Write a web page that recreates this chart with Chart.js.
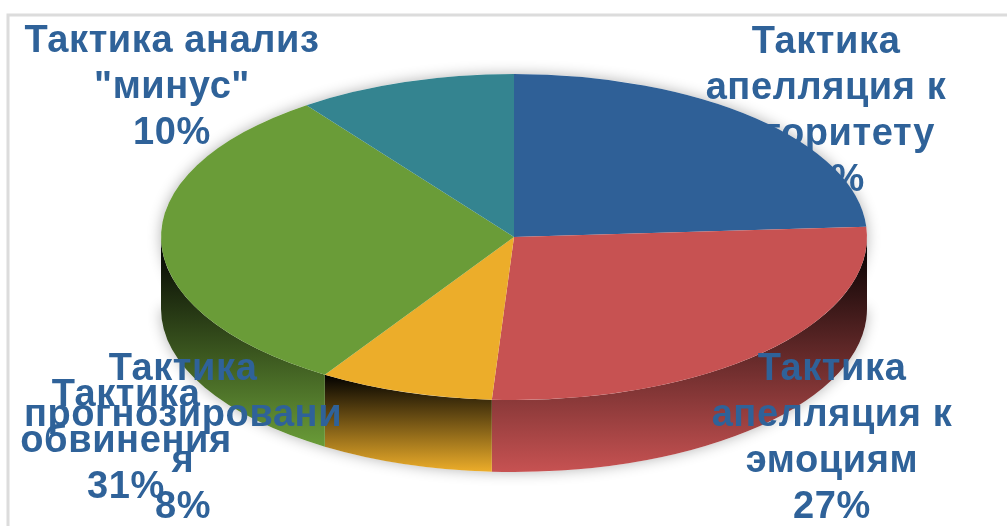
<!DOCTYPE html>
<html lang="ru">
<head>
<meta charset="utf-8">
<title>Тактики</title>
<script src="https://cdn.jsdelivr.net/npm/chart.js@4/dist/chart.umd.min.js"></script>
<style>
  html, body { margin: 0; padding: 0; background: #fff; overflow: hidden; }
  canvas { display: block; }
</style>
</head>
<body>
<canvas id="pieChart" width="1007" height="526"></canvas>
<script>
// Chart data
const categories = [
  'Тактика апелляция к авторитету',
  'Тактика апелляция к эмоциям',
  'Тактика прогнозирования',
  'Тактика обвинения',
  'Тактика анализ "минус"'
];
const shares = [24, 27, 8, 31, 10];
const sliceColors = ['#2f6097', '#c75252', '#ecad2a', '#6a9c38', '#348490'];

// Wrapped label text, one list per slice
const labelLines = [
  ['Тактика', 'апелляция к', 'авторитету'],
  ['Тактика', 'апелляция к', 'эмоциям'],
  ['Тактика', 'прогнозировани', 'я'],
  ['Тактика', 'обвинения'],
  ['Тактика анализ', '"минус"']
];
const labelCenterX = [826, 832, 183, 126, 172];
const labelFirstBaseline = [53, 380, 380, 406, 52];

const RADIUS_X = 353;
const RADIUS_Y = 163;
const DEPTH = 72;
const LINE_HEIGHT = 46;
const FRONT_START = 0;
const FRONT_END = Math.PI;

function drawLabel(ctx, index) {
  const lines = labelLines[index].concat(shares[index] + '%');
  ctx.save();
  ctx.font = 'bold 38px "Liberation Sans", Arial, sans-serif';
  ctx.letterSpacing = '0.6px';
  ctx.fillStyle = '#2f6299';
  ctx.textAlign = 'center';
  ctx.textBaseline = 'alphabetic';
  lines.forEach((line, i) => {
    ctx.fillText(line, labelCenterX[index], labelFirstBaseline[index] + i * LINE_HEIGHT);
  });
  ctx.restore();
}

// Extruded wall under the visible front part of a slice
function drawWall(ctx, arc, color) {
  const start = Math.max(arc.startAngle, FRONT_START);
  const end = Math.min(arc.endAngle, FRONT_END);
  if (end <= start) return;

  const topY = arc.y + RADIUS_Y * Math.min(Math.sin(start), Math.sin(end));
  const lowest = start < Math.PI / 2 && end > Math.PI / 2 ? 1 : Math.max(Math.sin(start), Math.sin(end));
  const bottomY = arc.y + RADIUS_Y * lowest + DEPTH;

  const gradient = ctx.createLinearGradient(0, topY, 0, bottomY);
  gradient.addColorStop(0, '#000000');
  gradient.addColorStop(1, color);

  ctx.beginPath();
  ctx.ellipse(arc.x, arc.y, RADIUS_X, RADIUS_Y, 0, start, end);
  ctx.ellipse(arc.x, arc.y + DEPTH, RADIUS_X, RADIUS_Y, 0, end, start, true);
  ctx.closePath();
  ctx.fillStyle = gradient;
  ctx.fill();
}

const pie3d = {
  id: 'pie3d',
  beforeDraw(chart) {
    // Thin frame along the top and left edges
    const ctx = chart.ctx;
    ctx.save();
    ctx.strokeStyle = '#dcdcdc';
    ctx.lineWidth = 3;
    ctx.beginPath();
    ctx.moveTo(8, 526);
    ctx.lineTo(8, 15);
    ctx.lineTo(1007, 15);
    ctx.stroke();
    ctx.restore();
  },
  beforeDatasetsDraw(chart) {
    const ctx = chart.ctx;
    const arcs = chart.getDatasetMeta(0).data;
    const { x, y } = arcs[0];

    // Soft shadow around the disc
    ctx.save();
    ctx.shadowColor = 'rgba(0, 0, 0, 0.3)';
    ctx.shadowBlur = 14;
    ctx.fillStyle = '#fff';
    ctx.beginPath();
    ctx.ellipse(x, y, RADIUS_X, RADIUS_Y, 0, 0, Math.PI * 2);
    ctx.fill();
    ctx.beginPath();
    ctx.ellipse(x, y + DEPTH, RADIUS_X, RADIUS_Y, 0, 0, Math.PI);
    ctx.fill();
    ctx.restore();

    arcs.forEach((arc, i) => drawWall(ctx, arc, sliceColors[i]));

    // This label sits behind the disc
    drawLabel(ctx, 0);

    // Squash the pie into an ellipse for the slices
    ctx.save();
    ctx.translate(x, y);
    ctx.scale(1, RADIUS_Y / RADIUS_X);
    ctx.translate(-x, -y);
  },
  afterDatasetsDraw(chart) {
    const ctx = chart.ctx;
    ctx.restore();
    [4, 1, 3, 2].forEach(i => drawLabel(ctx, i));
  }
};

new Chart(document.getElementById('pieChart').getContext('2d'), {
  type: 'pie',
  data: {
    labels: categories,
    datasets: [{
      data: shares,
      backgroundColor: sliceColors,
      borderWidth: 0,
      clip: false
    }]
  },
  options: {
    responsive: false,
    animation: false,
    radius: RADIUS_X,
    layout: { padding: { left: 21, bottom: 52 } },
    plugins: {
      legend: { display: false },
      tooltip: { enabled: false }
    }
  },
  plugins: [pie3d]
});
</script>
</body>
</html>
